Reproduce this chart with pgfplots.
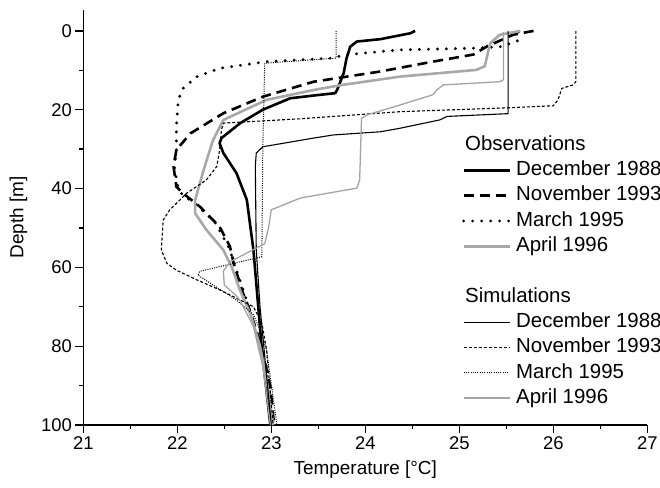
\documentclass[border=0pt]{standalone}
\usepackage{fontspec}
\setmainfont{Liberation Sans}
\usepackage{pgfplots}
\pgfplotsset{compat=1.18}
\definecolor{obsgray}{gray}{0.66}
\definecolor{simgray}{gray}{0.64}
\tikzset{
  obsA/.style={black, line width=2.6bp, line join=round},
  obsB/.style={black, line width=2.6bp, dash pattern=on 10bp off 6bp},
  obsC/.style={black, line width=3.2bp, line cap=round, dash pattern=on 0bp off 9bp},
  obsD/.style={obsgray, line width=2.6bp, line join=round},
  simA/.style={black, line width=1.1bp},
  simB/.style={black, line width=1.1bp, dash pattern=on 3bp off 2bp},
  simC/.style={black, line width=1bp, dash pattern=on 1bp off 1.3bp},
  simD/.style={simgray, line width=1.3bp},
}
\begin{document}
\begin{tikzpicture}
\begin{axis}[
  scale only axis, width=564bp, height=415bp,
  at={(0,0)}, anchor=south west,
  xmin=21, xmax=27, ymin=-5.3, ymax=100, y dir=reverse,
  axis x line*=bottom, axis y line*=left,
  xtick={21,...,27}, ytick={0,20,...,100},
  minor x tick num=1, minor y tick num=1,
  tick align=outside, major tick length=8bp, minor tick length=4bp,
  tick style={black, line width=1.3bp},
  axis line style={line width=1.3bp},
  tick label style={font=\fontsize{18.5}{21}\selectfont},
  /pgf/number format/assume math mode=true,
  label style={font=\fontsize{19}{22}\selectfont},
  xlabel={Temperature [°C]}, ylabel={Depth [m]},
  x label style={at={(axis description cs:0.5,-0.108)}, anchor=center},
  y label style={at={(axis description cs:-0.115,0.5)}, anchor=center, rotate=0},
  legend image code/.code={\draw[#1] (0bp,0bp) -- (46bp,0bp);},
  legend style={at={(axis description cs:0.6715,0.698)}, anchor=north west,
    draw=none, fill=none, inner sep=0pt, outer sep=0pt,
    row sep=5.8bp, column sep=5bp,
    font=\fontsize{20.5}{23}\selectfont,
    nodes={inner sep=0pt, text height=15bp, text depth=4.5bp},
    cells={anchor=west}},
]
% ---- Observations ----
\addplot[obsA, forget plot] coordinates {
(24.53,0) (24.48,0.6) (24.16,2.1) (23.91,2.7) (23.84,4) (23.80,7) (23.77,10.7)
(23.70,15) (23.68,15.8) (23.45,16.4) (23.20,17.1) (22.91,20) (22.67,23.4)
(22.47,27.2) (22.45,28.5) (22.49,31) (22.63,36.1) (22.74,42.9) (22.81,55.6)
(22.84,64) (22.90,81) (22.99,100)};
\addplot[obsB, forget plot] coordinates {
(25.79,0) (25.57,1) (25.29,4) (25.15,6) (24.72,7.8) (24.16,10.3) (23.45,12.9)
(22.91,16.7) (22.49,20.9) (22.14,26) (21.99,30.2) (21.96,34.4) (21.99,39.5)
(22.06,41.2) (22.24,44.6) (22.45,49.7) (22.56,54.7) (22.60,59) (22.70,66.6)
(22.77,70.8) (22.85,76.7) (22.92,82.7) (22.99,90.3) (23.03,100)};
\addplot[obsC, forget plot] coordinates {
(25.63,0.3) (25.62,2.5) (25.45,4) (25.15,4.4) (24.37,4.8) (23.77,6.1) (23.66,6.9)
(22.95,7.8) (22.45,9.5) (22.21,11.6) (22.06,14.6) (22.01,17.5) (21.99,24.3)
(21.99,30.2) (21.97,34.4) (22.00,39) (22.05,41.5) (22.20,44) (22.40,48.5)
(22.55,55) (22.62,60) (22.72,67) (22.82,75) (22.90,82) (22.97,90) (23.02,100)};
\addplot[obsD, forget plot] coordinates {
(25.65,0) (25.43,1) (25.33,3.1) (25.27,9) (25.18,9.9) (24.37,11.6) (23.73,13.8)
(23.45,15) (22.95,17.5) (22.49,22.6) (22.38,27.7) (22.28,35.3) (22.19,42.9)
(22.19,46.3) (22.31,50.5) (22.49,55.6) (22.58,60) (22.67,66) (22.78,72)
(22.88,80) (22.96,90) (23.02,100)};
% ---- Simulations ----
\addplot[simA, forget plot] coordinates {
(25.52,0) (25.52,21) (24.87,21.7) (24.79,22.6) (24.37,24.7) (24.16,25.6)
(23.66,26.4) (23.45,27.2) (22.91,29.4) (22.84,31) (22.83,34.4) (22.84,55.6)
(22.88,70) (22.94,85) (23.00,100)};
\addplot[simB, forget plot] coordinates {
(26.24,0) (26.24,12.9) (26.21,13.7) (26.09,14.6) (26.05,17.5) (26.00,19)
(25.43,19.6) (24.37,20.5) (23.31,22.3) (22.49,23.4) (22.47,25.1) (22.45,30.2)
(22.42,34.4) (22.31,37.8) (22.10,41.2) (21.92,45.4) (21.85,48) (21.83,55.6)
(21.89,59) (21.99,60.7) (22.21,63.2) (22.45,65.7) (22.67,68.3) (22.81,70)
(22.90,74.2) (22.95,81) (23.02,100)};
\addplot[simC, forget plot] coordinates {
(23.69,0) (23.69,6.9) (22.93,8.2) (22.91,29.4) (22.90,55.6) (22.90,57.3)
(22.24,61) (22.22,62) (22.63,68.3) (22.81,72) (22.90,77) (22.95,81) (23.06,100)};
\addplot[simD, forget plot] coordinates {
(25.47,0.3) (25.47,12.4) (25.43,12.9) (24.83,13.7) (24.76,15) (24.72,16.2)
(24.37,18.8) (24.02,21.3) (23.96,22.2) (23.94,37.8) (23.91,39.9) (23.31,42.4)
(23.00,45.4) (22.97,50) (22.93,54) (22.56,58.6) (22.49,61) (22.50,64.5)
(22.62,67) (22.67,68.5) (22.81,75) (22.91,85.2) (22.99,100)};
% ---- Legend ----
\addlegendimage{empty legend}\addlegendentry{\hspace{-51bp}Observations}
\addlegendimage{obsA}\addlegendentry{December 1988}
\addlegendimage{obsB}\addlegendentry{November 1993}
\addlegendimage{obsC}\addlegendentry{March 1995}
\addlegendimage{obsD}\addlegendentry{April 1996}
\addlegendimage{empty legend}\addlegendentry{}
\addlegendimage{empty legend}\addlegendentry{\hspace{-51bp}Simulations}
\addlegendimage{simA}\addlegendentry{December 1988}
\addlegendimage{simB}\addlegendentry{November 1993}
\addlegendimage{simC}\addlegendentry{March 1995}
\addlegendimage{simD}\addlegendentry{April 1996}
\end{axis}
\pgfresetboundingbox
\useasboundingbox (-83.3bp,-63bp) rectangle (576.7bp,425bp);
\end{tikzpicture}
\end{document}
